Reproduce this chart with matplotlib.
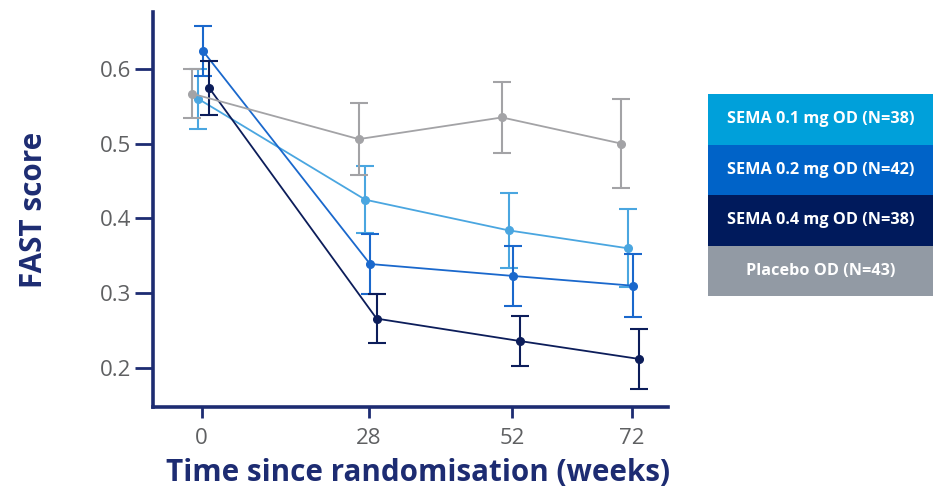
import matplotlib
matplotlib.use("Agg")
import matplotlib.pyplot as plt
from matplotlib.patches import Rectangle
import numpy as np

plt.rcParams['font.family'] = ['Open Sans', 'DejaVu Sans']

weeks = [0, 28, 52, 72]
series_labels = ["SEMA 0.1 mg OD (N=38)", "SEMA 0.2 mg OD (N=42)",
                 "SEMA 0.4 mg OD (N=38)", "Placebo OD (N=43)"]
sema01_mean = [0.560, 0.425, 0.384, 0.360]
sema01_err = [0.040, 0.045, 0.050, 0.052]
sema02_mean = [0.624, 0.339, 0.323, 0.310]
sema02_err = [0.033, 0.040, 0.040, 0.042]
sema04_mean = [0.574, 0.266, 0.236, 0.212]
sema04_err = [0.036, 0.033, 0.033, 0.040]
placebo_mean = [0.567, 0.506, 0.535, 0.500]
placebo_err = [0.033, 0.048, 0.047, 0.060]
yticks = [0.2, 0.3, 0.4, 0.5, 0.6]

line_colors = ["#4aa6e0", "#1a68cc", "#0c1d5a", "#a3a3a6"]
legend_colors = ["#00a0da", "#0063c8", "#001a5c", "#929aa4"]
dodge = [-0.6, 0.2, 1.3, -1.7]
navy = "#1d2c72"

fig = plt.figure(figsize=(9.34, 4.91), dpi=100)
ax = fig.add_axes([153/934, 1-407/491, (668-153)/934, (407-12)/491])

means = [sema01_mean, sema02_mean, sema04_mean, placebo_mean]
errs = [sema01_err, sema02_err, sema04_err, placebo_err]
order = [3, 0, 1, 2]
for i in order:
    x = np.array(weeks) + dodge[i]
    ax.errorbar(x, means[i], yerr=errs[i], color=line_colors[i], lw=1.3,
                elinewidth=1.5, capsize=6.5, capthick=1.5, marker='o',
                markersize=5.5, zorder=3 + i)

ax.set_xlim(-8.15, 78.1)
ax.set_ylim(0.1478, 0.676)
ax.set_xticks(weeks)
ax.set_xticklabels([str(w) for w in weeks])
ax.set_yticks(yticks)
ax.set_yticklabels([f"{v:.1f}" for v in yticks])
for s in ['top', 'right']:
    ax.spines[s].set_visible(False)
for s in ['left', 'bottom']:
    ax.spines[s].set_color(navy)
    ax.spines[s].set_linewidth(2.6)
ax.tick_params(axis='both', colors=navy, width=2.0, labelsize=16,
               labelcolor="#5f6062")
ax.tick_params(axis='y', length=13, pad=3)
ax.tick_params(axis='x', length=8, pad=7)

ax.set_ylabel("FAST score", fontsize=21.3, fontweight='bold', color=navy, labelpad=36)
ax.set_xlabel("Time since randomisation (weeks)", fontsize=21.3, fontweight='bold',
              color=navy)
ax.xaxis.set_label_coords(0.5136, -0.128)

# legend panel
lax = fig.add_axes([708/934, 1-296/491, 225/934, 202/491])
lax.set_xlim(0, 1)
lax.set_ylim(0, len(series_labels))
lax.axis('off')
for k, (lab, col) in enumerate(zip(series_labels, legend_colors)):
    y0 = len(series_labels) - k - 1
    lax.add_patch(Rectangle((0, y0), 1, 1, facecolor=col, edgecolor='none'))
    lax.text(0.5, y0 + 0.5, lab, ha='center', va='center', color='white',
             fontsize=11.7, fontweight='bold')

fig.savefig("out.png", dpi=100)
